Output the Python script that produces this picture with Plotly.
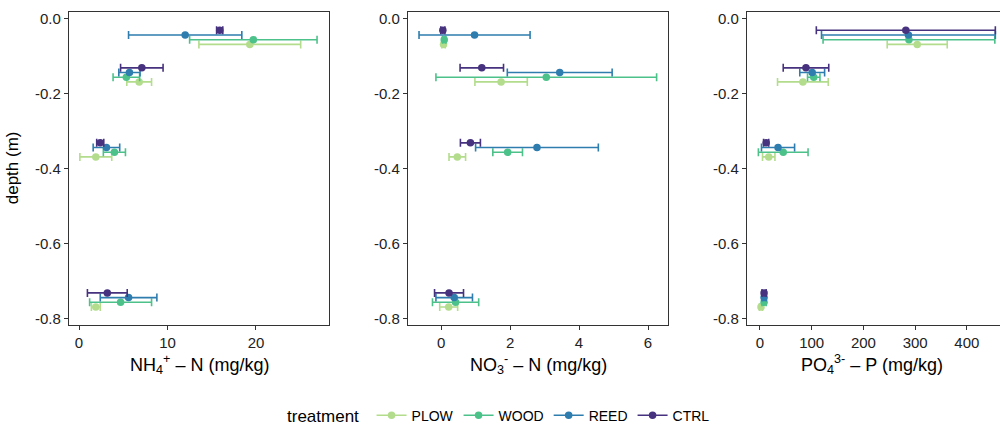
import plotly.graph_objects as go

# Sampling depths (m) and treatments
depths = [-0.05, -0.15, -0.35, -0.75]
treatments = ["PLOW", "WOOD", "REED", "CTRL"]
colors = {"PLOW": "#b3dd8c", "WOOD": "#4cc28a", "REED": "#2e7dae", "CTRL": "#46327e"}

# NH4+-N (mg/kg): mean and standard error per depth
nh4_mean = {"PLOW": [19.3, 6.8, 1.9, 1.9], "WOOD": [19.7, 5.35, 4.0, 4.7],
            "REED": [12.0, 5.7, 3.1, 5.6], "CTRL": [15.9, 7.1, 2.4, 3.2]}
nh4_se = {"PLOW": [5.75, 1.4, 1.8, 0.5], "WOOD": [7.2, 1.5, 1.25, 3.5],
          "REED": [6.4, 1.2, 1.5, 3.2], "CTRL": [0.35, 2.4, 0.4, 2.25]}

# NO3--N (mg/kg)
no3_mean = {"PLOW": [0.07, 1.74, 0.47, 0.22], "WOOD": [0.09, 3.05, 1.93, 0.42],
            "REED": [0.97, 3.44, 2.78, 0.38], "CTRL": [0.05, 1.18, 0.85, 0.23]}
no3_se = {"PLOW": [0.05, 0.76, 0.24, 0.26], "WOOD": [0.05, 3.2, 0.43, 0.67],
          "REED": [1.61, 1.52, 1.78, 0.53], "CTRL": [0.06, 0.63, 0.29, 0.42]}

# PO4(3-)-P (mg/kg)
po4_mean = {"PLOW": [304, 83, 17, 2], "WOOD": [288, 104, 45, 8],
            "REED": [287, 101, 35, 8], "CTRL": [282, 89, 12, 8]}
po4_se = {"PLOW": [58, 49, 12, 3], "WOOD": [166, 12, 48, 4],
          "REED": [168, 24, 32, 4], "CTRL": [173, 44, 5, 4]}

y_ticks = [-0.8, -0.6, -0.4, -0.2, 0.0]
y_ticktext = ["-0.8", "-0.6", "-0.4", "-0.2", "0.0"]

panels = [
    (nh4_mean, nh4_se, [0, 10, 20], [-1.13, 28.25], [0.069, 0.329],
     "NH<sub>4</sub><sup>+</sup> \u2013 N (mg/kg)"),
    (no3_mean, no3_se, [0, 2, 4, 6], [-0.96, 6.58], [0.408, 0.668],
     "NO<sub>3</sub><sup>-</sup> \u2013 N (mg/kg)"),
    (po4_mean, po4_se, [0, 100, 200, 300, 400], [-25, 464], [0.747, 1.0],
     "PO<sub>4</sub><sup>3-</sup> \u2013 P (mg/kg)"),
]

# vertical dodge so the four treatments don't overlap at each depth
dodge_width = 0.05
n = len(treatments)
offsets = {t: dodge_width * ((i + 0.5) / n - 0.5) for i, t in enumerate(treatments)}

font_family = "Liberation Sans, Arial, sans-serif"
fig = go.Figure()
layout = dict()
annotations = []
ydom = [1 - 328 / 433, 1 - 10 / 433]

for k, (means, ses, xt, xr, xdom, title) in enumerate(panels, start=1):
    xa = "x" if k == 1 else f"x{k}"
    ya = "y" if k == 1 else f"y{k}"
    for t in treatments:
        fig.add_trace(go.Scatter(
            x=means[t], y=[d + offsets[t] for d in depths],
            mode="markers", xaxis=xa, yaxis=ya, showlegend=False,
            marker=dict(color=colors[t], size=7.5),
            error_x=dict(type="data", array=ses[t], color=colors[t],
                         thickness=1.6, width=4),
            name=t,
        ))
    axis_common = dict(showgrid=False, zeroline=False, showline=True,
                       linecolor="#333333", linewidth=1.2, ticks="outside",
                       ticklen=4, tickwidth=1.1, tickcolor="#333333",
                       tickfont=dict(family=font_family, size=15, color="#222222"))
    layout["xaxis" if k == 1 else f"xaxis{k}"] = dict(
        axis_common, domain=xdom, range=xr, tickvals=xt,
        ticktext=[str(v) for v in xt], anchor=ya, mirror=True)
    layout["yaxis" if k == 1 else f"yaxis{k}"] = dict(
        axis_common, domain=ydom, range=[-0.816, 0.018], tickvals=y_ticks,
        ticktext=y_ticktext, anchor=xa, mirror=(k != 3))
    xc = (xdom[0] + 0.997) / 2 if k == 3 else (xdom[0] + xdom[1]) / 2
    annotations.append(dict(
        text=title, x=xc, y=1 - 368 / 433, xref="paper", yref="paper",
        showarrow=False, xanchor="center", yanchor="middle",
        font=dict(family=font_family, size=18, color="#000000")))

annotations.append(dict(
    text="depth (m)", x=12 / 1000, y=(ydom[0] + ydom[1]) / 2, xref="paper",
    yref="paper", showarrow=False, textangle=-90, xanchor="center",
    yanchor="middle", font=dict(family=font_family, size=17, color="#000000")))

# legend entries (line through point, like the plotted marks)
for t in treatments:
    fig.add_trace(go.Scatter(
        x=[None], y=[None], mode="lines+markers", name=t,
        line=dict(color=colors[t], width=1.6),
        marker=dict(color=colors[t], size=7.5), showlegend=True))

fig.update_layout(
    **layout,
    annotations=annotations,
    width=1000, height=433,
    margin=dict(l=0, r=0, t=0, b=0),
    plot_bgcolor="white", paper_bgcolor="white",
    font=dict(family=font_family),
    legend=dict(orientation="h", x=0.50, xanchor="center", y=12 / 433,
                yanchor="middle", itemwidth=30,
                title=dict(text="treatment ", side="left",
                           font=dict(family=font_family, size=17, color="#000000")),
                font=dict(family=font_family, size=14, color="#000000")),
)

fig.write_html("out.html")
